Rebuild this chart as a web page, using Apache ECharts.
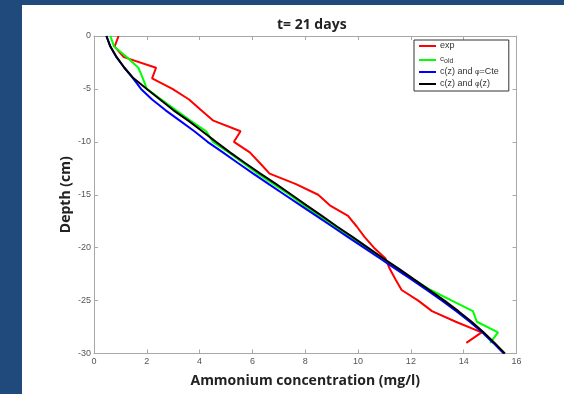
<!DOCTYPE html>
<html>
<head>
<meta charset="utf-8">
<script src="https://cdn.jsdelivr.net/npm/echarts@6/dist/echarts.min.js"></script>
<style>
  html, body { margin: 0; padding: 0; background: #1f4a7b; }
  #panel { position: absolute; left: 22px; top: 5px; width: 542px; height: 389px; background: #fff; }
  #chart { width: 542px; height: 389px; }
</style>
</head>
<body>
<div id="panel"><div id="chart"></div></div>
<script>
// depth in cm (0 .. -30)
const depthExp = [0, -1, -2, -3, -4, -5, -6, -7, -8, -9, -10, -11, -12, -13, -14, -15, -16, -17, -18, -19, -20, -21, -22, -23, -24, -25, -26, -27, -28, -29]
const expVals = [0.93, 0.78, 1.13, 2.35, 2.2, 2.97, 3.6, 4.05, 4.52, 5.55, 5.3, 5.9, 6.28, 6.65, 7.65, 8.49, 8.93, 9.62, 9.95, 10.25, 10.6, 11.03, 11.2, 11.42, 11.65, 12.28, 12.8, 13.7, 14.68, 14.1]
const oldVals = [0.62, 0.76, 1.25, 1.68, 1.85, 2.0, 2.55, 3.1, 3.65, 4.25, 4.5, 5.1, 5.65, 6.2, 6.8, 7.4, 7.95, 8.5, 9.1, 9.68, 10.28, 10.88, 11.5, 12.1, 12.75, 13.55, 14.35, 14.5, 15.3, 15.0]
const depthModel = [0, -1, -2, -3, -4, -5, -6, -7, -8, -9, -10, -11, -12, -13, -14, -15, -16, -17, -18, -19, -20, -21, -22, -23, -24, -25, -26, -27, -28, -29, -30]
const cteVals = [0.47, 0.62, 0.85, 1.15, 1.48, 1.78, 2.2, 2.7, 3.25, 3.8, 4.3, 4.88, 5.45, 6.03, 6.62, 7.22, 7.82, 8.42, 9.02, 9.62, 10.22, 10.82, 11.42, 12.02, 12.6, 13.18, 13.72, 14.23, 14.7, 15.12, 15.52]
const phiVals = [0.47, 0.62, 0.86, 1.15, 1.5, 2.0, 2.5, 3.0, 3.57, 4.1, 4.62, 5.15, 5.72, 6.3, 6.9, 7.48, 8.05, 8.63, 9.2, 9.8, 10.37, 10.95, 11.55, 12.12, 12.7, 13.27, 13.8, 14.3, 14.75, 15.17, 15.56]

const pair = (xs, ds) => xs.map((v, i) => [v, ds[i]])

// chart origin is the white panel (22,5) in the page
const OX = 22, OY = 5
const chart = echarts.init(document.getElementById('chart'))

const axisCommon = {
  type: 'value',
  axisLine: { show: true, onZero: false, lineStyle: { color: '#a8a8a8', width: 1 } },
  axisTick: { show: true, inside: true, length: 4, lineStyle: { color: '#a8a8a8' } },
  splitLine: { show: false },
}

const lineSeries = (name, data, color) => ({
  name,
  type: 'line',
  data,
  symbol: 'none',
  animation: false,
  lineStyle: { color, width: 2 },
  itemStyle: { color },
})

chart.setOption({
  animation: false,
  textStyle: { fontFamily: 'Liberation Sans, Arial, sans-serif' },
  title: {
    text: 't= 21 days',
    left: 272 - OX,
    top: 13 - OY,
    textStyle: { fontSize: 14, fontWeight: 'bold', color: '#222', fontFamily: 'Open Sans, sans-serif' },
  },
  legend: {
    orient: 'vertical',
    left: 414 - OX,
    top: 40 - OY,
    width: 98,
    padding: [1, 10, 2, 5],
    itemGap: 2,
    itemWidth: 17,
    itemHeight: 2,
    icon: 'rect',
    borderColor: '#333',
    borderWidth: 1,
    borderRadius: 0,
    backgroundColor: '#fff',
    textStyle: {
      fontSize: 9,
      color: '#333',
      lineHeight: 10,
      padding: [0, 0, 0, -1],
      rich: {
        sub: { fontSize: 7, lineHeight: 10, verticalAlign: 'bottom', padding: [5, 0, 0, 0] },
        c: { fontSize: 8, lineHeight: 10, padding: [0, 0, 2, 0] },
        phi: { fontSize: 7, lineHeight: 10 },
      },
    },
    formatter(name) {
      if (name === 'c_old') return '{c|c}{sub|old}'
      if (name === 'cte') return 'c(z) and {phi|φ}=Cte'
      if (name === 'phi') return 'c(z) and {phi|φ}(z)'
      return name
    },
    data: ['exp', 'c_old', 'cte', 'phi'],
  },
  grid: {
    left: 94 - OX,
    top: 36 - OY,
    right: 564 - 516.5,
    bottom: 394 - 353.5,
  },
  xAxis: [
    {
      ...axisCommon,
      min: 0,
      max: 16,
      interval: 2,
      name: 'Ammonium concentration (mg/l)',
      nameLocation: 'middle',
      nameGap: 21,
      nameMoveOverlap: false,
      nameTextStyle: { fontSize: 14, fontWeight: 'bold', color: '#222', fontFamily: 'Open Sans, sans-serif' },
      axisLabel: { fontSize: 9, color: '#555', margin: 4 },
    },
    {
      ...axisCommon,
      position: 'top',
      min: 0,
      max: 16,
      interval: 2,
      axisLabel: { show: false },
    },
  ],
  yAxis: [
    {
      ...axisCommon,
      min: -30,
      max: 0,
      interval: 5,
      name: 'Depth (cm)',
      nameLocation: 'middle',
      nameRotate: 90,
      nameGap: 21,
      nameMoveOverlap: false,
      nameTextStyle: { fontSize: 14, fontWeight: 'bold', color: '#222', fontFamily: 'Open Sans, sans-serif' },
      axisLabel: { fontSize: 9, color: '#555', margin: 3 },
    },
    {
      ...axisCommon,
      position: 'right',
      min: -30,
      max: 0,
      interval: 5,
      axisLabel: { show: false },
    },
  ],
  series: [
    lineSeries('exp', pair(expVals, depthExp), '#ff0000'),
    lineSeries('c_old', pair(oldVals, depthExp), '#00ff00'),
    lineSeries('cte', pair(cteVals, depthModel), '#0000ff'),
    lineSeries('phi', pair(phiVals, depthModel), '#000000'),
  ],
})
</script>
</body>
</html>
